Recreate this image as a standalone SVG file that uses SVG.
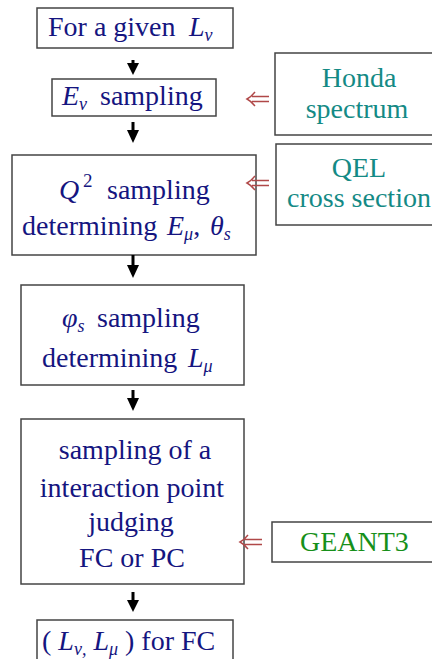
<svg xmlns="http://www.w3.org/2000/svg" width="432" height="659" viewBox="0 0 432 659">
<style>
text{font-family:'Liberation Serif','Times New Roman',serif;font-size:28px}
.t{fill:#151580}
.tt{fill:#148a85;text-anchor:middle}
.tg{fill:#16901a}
.i{font-style:italic}
.sub{font-style:italic;font-size:18px}
.box{fill:#fff;stroke:#444;stroke-width:1.5}
.shaft{stroke:#000;stroke-width:3}
.head{fill:#000}
.dbl{fill:none;stroke:#b04848;stroke-width:1.4}
</style>
<g id="n1"><rect class="box" x="37" y="8" width="196" height="40"/>
<text class="t" x="48" y="36">For a given <tspan class="i" x="189">L</tspan><tspan class="sub" dy="5">ν</tspan></text></g>
<g id="n2"><rect class="box" x="52" y="79" width="164" height="37"/>
<text class="t" x="62" y="105"><tspan class="i">E</tspan><tspan class="sub" dy="5">ν</tspan><tspan x="100" dy="-5">sampling</tspan></text></g>
<g id="n3"><rect class="box" x="12" y="155" width="244" height="100"/>
<text class="t" x="59" y="199"><tspan class="i">Q</tspan><tspan font-size="19" x="83" dy="-12">2</tspan><tspan x="107" dy="12">sampling</tspan></text>
<text class="t" x="22" y="235">determining <tspan class="i" x="167">E</tspan><tspan class="sub" dy="5">μ</tspan><tspan dy="-5">,</tspan><tspan class="i" x="210">θ</tspan><tspan class="sub" dy="5">s</tspan></text></g>
<g id="n4"><rect class="box" x="21" y="285" width="223" height="100"/>
<text class="t" x="62" y="327"><tspan class="i">φ</tspan><tspan class="sub" dy="5">s</tspan><tspan x="97" dy="-5">sampling</tspan></text>
<text class="t" x="42" y="367">determining <tspan class="i" x="188">L</tspan><tspan class="sub" dy="5">μ</tspan></text></g>
<g id="n5"><rect class="box" x="21" y="419" width="223" height="165"/>
<text class="t" text-anchor="middle" x="135" y="459">sampling of a</text>
<text class="t" text-anchor="middle" x="132" y="497">interaction point</text>
<text class="t" text-anchor="middle" x="131" y="531">judging</text>
<text class="t" text-anchor="middle" x="132" y="567">FC or PC</text></g>
<g id="n6"><rect class="box" x="37" y="620" width="196" height="60"/>
<text class="t" x="42" y="650">( <tspan class="i">L</tspan><tspan class="sub" dy="5">ν,</tspan><tspan class="i" dy="-5"> L</tspan><tspan class="sub" dy="5">μ</tspan><tspan dy="-5"> ) for FC</tspan></text></g>
<g id="honda"><rect class="box" x="275" y="53" width="170" height="82"/>
<text class="tt" x="359" y="87">Honda</text><text class="tt" x="357" y="118">spectrum</text></g>
<g id="qel"><rect class="box" x="276" y="144" width="170" height="81"/>
<text class="tt" x="359" y="177">QEL</text><text class="tt" x="359" y="207">cross section</text></g>
<g id="geant"><rect class="box" x="272" y="522" width="170" height="40"/>
<text class="tg" x="300" y="551">GEANT3</text></g>
<g id="connectors">
<line class="shaft" x1="133" y1="60" x2="133" y2="66"/><polygon class="head" points="127,63 139,63 133,75"/>
<line class="shaft" x1="133" y1="122" x2="133" y2="133"/><polygon class="head" points="127,130 139,130 133,143"/>
<line class="shaft" x1="133" y1="255" x2="133" y2="268"/><polygon class="head" points="127,265 139,265 133,278"/>
<line class="shaft" x1="133" y1="390" x2="133" y2="401"/><polygon class="head" points="127,398 139,398 133,411"/>
<line class="shaft" x1="133" y1="592" x2="133" y2="603"/><polygon class="head" points="127,600 139,600 133,612"/>
<path class="dbl" d="M269 96.5H252M269 101.5H252M255 92Q251 97 247 99Q251 101 255 106"/>
<path class="dbl" d="M269 180.5H252M269 185.5H252M255 176Q251 181 247 183Q251 185 255 190"/>
<path class="dbl" d="M262 539.5H245M262 544.5H245M248 535Q244 540 240 542Q244 544 248 549"/>
</g>
</svg>
